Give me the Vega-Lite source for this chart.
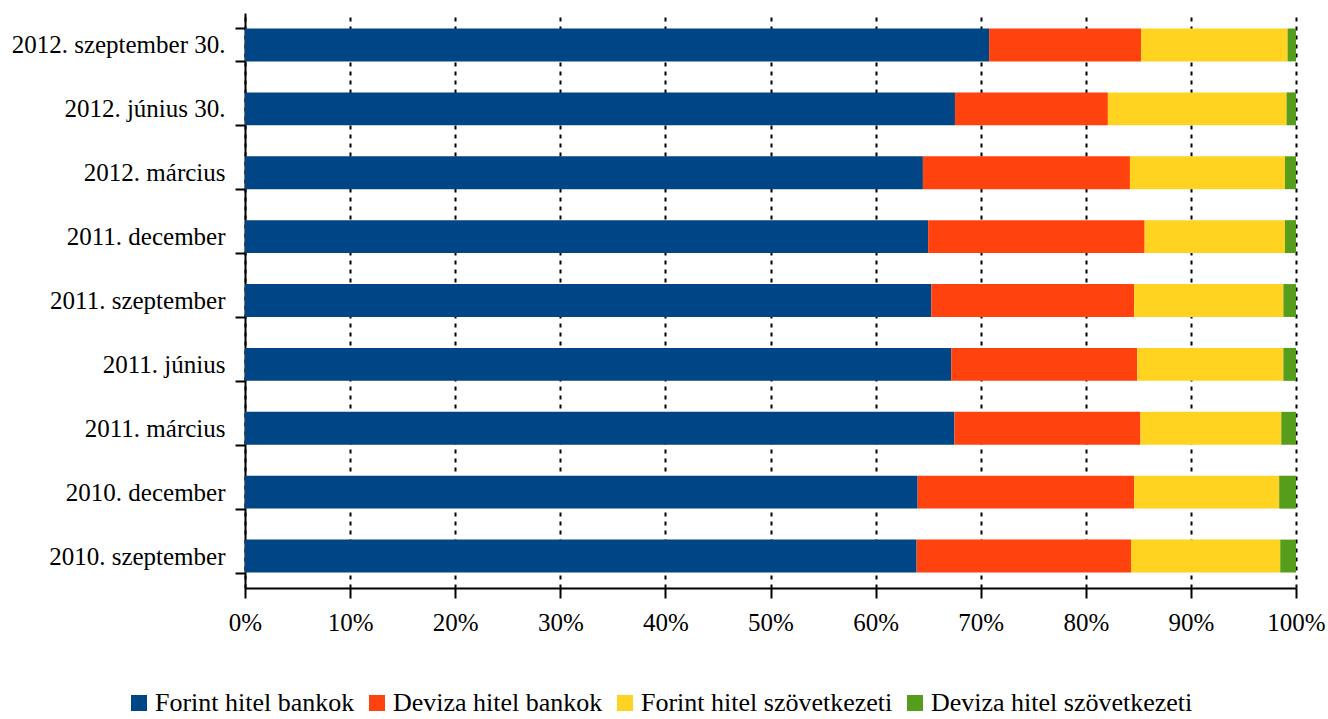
{
  "$schema": "https://vega.github.io/schema/vega-lite/v6.json",
  "width": 1051,
  "height": 575,
  "autosize": {"type": "none"},
  "padding": {"left": 245, "top": 13, "right": 32, "bottom": 131},
  "background": "white",
  "config": {
    "view": {"stroke": null},
    "font": "Liberation Serif",
    "axis": {"labelFont": "Liberation Serif", "labelFontSize": 25, "labelColor": "#000000", "domainColor": "#000000", "tickColor": "#000000", "domainWidth": 2, "tickWidth": 2},
    "legend": {"labelFont": "Liberation Serif", "labelFontSize": 26, "labelColor": "#000000"}
  },
  "data": {
    "values": [
      {"period": "2012. szeptember 30.", "cat": "Forint hitel bankok", "ord": 1, "v": 70.8},
      {"period": "2012. szeptember 30.", "cat": "Deviza hitel bankok", "ord": 2, "v": 14.45},
      {"period": "2012. szeptember 30.", "cat": "Forint hitel szövetkezeti", "ord": 3, "v": 13.95},
      {"period": "2012. szeptember 30.", "cat": "Deviza hitel szövetkezeti", "ord": 4, "v": 0.8},
      {"period": "2012. június 30.", "cat": "Forint hitel bankok", "ord": 1, "v": 67.55},
      {"period": "2012. június 30.", "cat": "Deviza hitel bankok", "ord": 2, "v": 14.55},
      {"period": "2012. június 30.", "cat": "Forint hitel szövetkezeti", "ord": 3, "v": 17.0},
      {"period": "2012. június 30.", "cat": "Deviza hitel szövetkezeti", "ord": 4, "v": 0.9},
      {"period": "2012. március\u00a0", "cat": "Forint hitel bankok", "ord": 1, "v": 64.5},
      {"period": "2012. március\u00a0", "cat": "Deviza hitel bankok", "ord": 2, "v": 19.7},
      {"period": "2012. március\u00a0", "cat": "Forint hitel szövetkezeti", "ord": 3, "v": 14.75},
      {"period": "2012. március\u00a0", "cat": "Deviza hitel szövetkezeti", "ord": 4, "v": 1.05},
      {"period": "2011. december\u00a0", "cat": "Forint hitel bankok", "ord": 1, "v": 65.0},
      {"period": "2011. december\u00a0", "cat": "Deviza hitel bankok", "ord": 2, "v": 20.6},
      {"period": "2011. december\u00a0", "cat": "Forint hitel szövetkezeti", "ord": 3, "v": 13.35},
      {"period": "2011. december\u00a0", "cat": "Deviza hitel szövetkezeti", "ord": 4, "v": 1.05},
      {"period": "2011. szeptember", "cat": "Forint hitel bankok", "ord": 1, "v": 65.3},
      {"period": "2011. szeptember", "cat": "Deviza hitel bankok", "ord": 2, "v": 19.3},
      {"period": "2011. szeptember", "cat": "Forint hitel szövetkezeti", "ord": 3, "v": 14.2},
      {"period": "2011. szeptember", "cat": "Deviza hitel szövetkezeti", "ord": 4, "v": 1.2},
      {"period": "2011. június\u00a0", "cat": "Forint hitel bankok", "ord": 1, "v": 67.2},
      {"period": "2011. június\u00a0", "cat": "Deviza hitel bankok", "ord": 2, "v": 17.7},
      {"period": "2011. június\u00a0", "cat": "Forint hitel szövetkezeti", "ord": 3, "v": 13.9},
      {"period": "2011. június\u00a0", "cat": "Deviza hitel szövetkezeti", "ord": 4, "v": 1.2},
      {"period": "2011. március\u00a0", "cat": "Forint hitel bankok", "ord": 1, "v": 67.5},
      {"period": "2011. március\u00a0", "cat": "Deviza hitel bankok", "ord": 2, "v": 17.7},
      {"period": "2011. március\u00a0", "cat": "Forint hitel szövetkezeti", "ord": 3, "v": 13.4},
      {"period": "2011. március\u00a0", "cat": "Deviza hitel szövetkezeti", "ord": 4, "v": 1.4},
      {"period": "2010. december", "cat": "Forint hitel bankok", "ord": 1, "v": 64.0},
      {"period": "2010. december", "cat": "Deviza hitel bankok", "ord": 2, "v": 20.6},
      {"period": "2010. december", "cat": "Forint hitel szövetkezeti", "ord": 3, "v": 13.8},
      {"period": "2010. december", "cat": "Deviza hitel szövetkezeti", "ord": 4, "v": 1.6},
      {"period": "2010. szeptember\u00a0", "cat": "Forint hitel bankok", "ord": 1, "v": 63.9},
      {"period": "2010. szeptember\u00a0", "cat": "Deviza hitel bankok", "ord": 2, "v": 20.4},
      {"period": "2010. szeptember\u00a0", "cat": "Forint hitel szövetkezeti", "ord": 3, "v": 14.2},
      {"period": "2010. szeptember\u00a0", "cat": "Deviza hitel szövetkezeti", "ord": 4, "v": 1.5}
    ]
  },
  "mark": {"type": "bar"},
  "encoding": {
    "y": {
      "field": "period", "type": "nominal", "sort": null,
      "scale": {"paddingInner": 0.485, "paddingOuter": 0.2425},
      "axis": {"title": null, "tickBand": "extent", "tickSize": 10, "labelPadding": 10, "grid": false, "labelBaseline": "middle", "labelLimit": 300}
    },
    "x": {
      "field": "v", "type": "quantitative", "stack": "normalize",
      "scale": {"domain": [0, 1], "nice": false},
      "axis": {"title": null, "format": ".0%", "values": [0, 0.1, 0.2, 0.3, 0.4, 0.5, 0.6, 0.7, 0.8, 0.9, 1], "tickSize": 10, "labelPadding": 12, "grid": true, "gridColor": "#000000", "gridDash": [4, 5], "gridWidth": 2, "gridOpacity": 1, "labelFlush": false}
    },
    "color": {
      "field": "cat", "type": "nominal",
      "scale": {"domain": ["Forint hitel bankok", "Deviza hitel bankok", "Forint hitel szövetkezeti", "Deviza hitel szövetkezeti"], "range": ["#004586", "#ff420e", "#ffd320", "#579d1c"]},
      "legend": {"title": null, "orient": "none", "legendX": -119, "legendY": 677, "direction": "horizontal", "symbolType": "square", "symbolSize": 256, "symbolStrokeWidth": 0, "symbolOpacity": 1, "labelOffset": 3, "columnPadding": 9, "labelLimit": 400}
    },
    "order": {"field": "ord", "type": "quantitative"}
  }
}
